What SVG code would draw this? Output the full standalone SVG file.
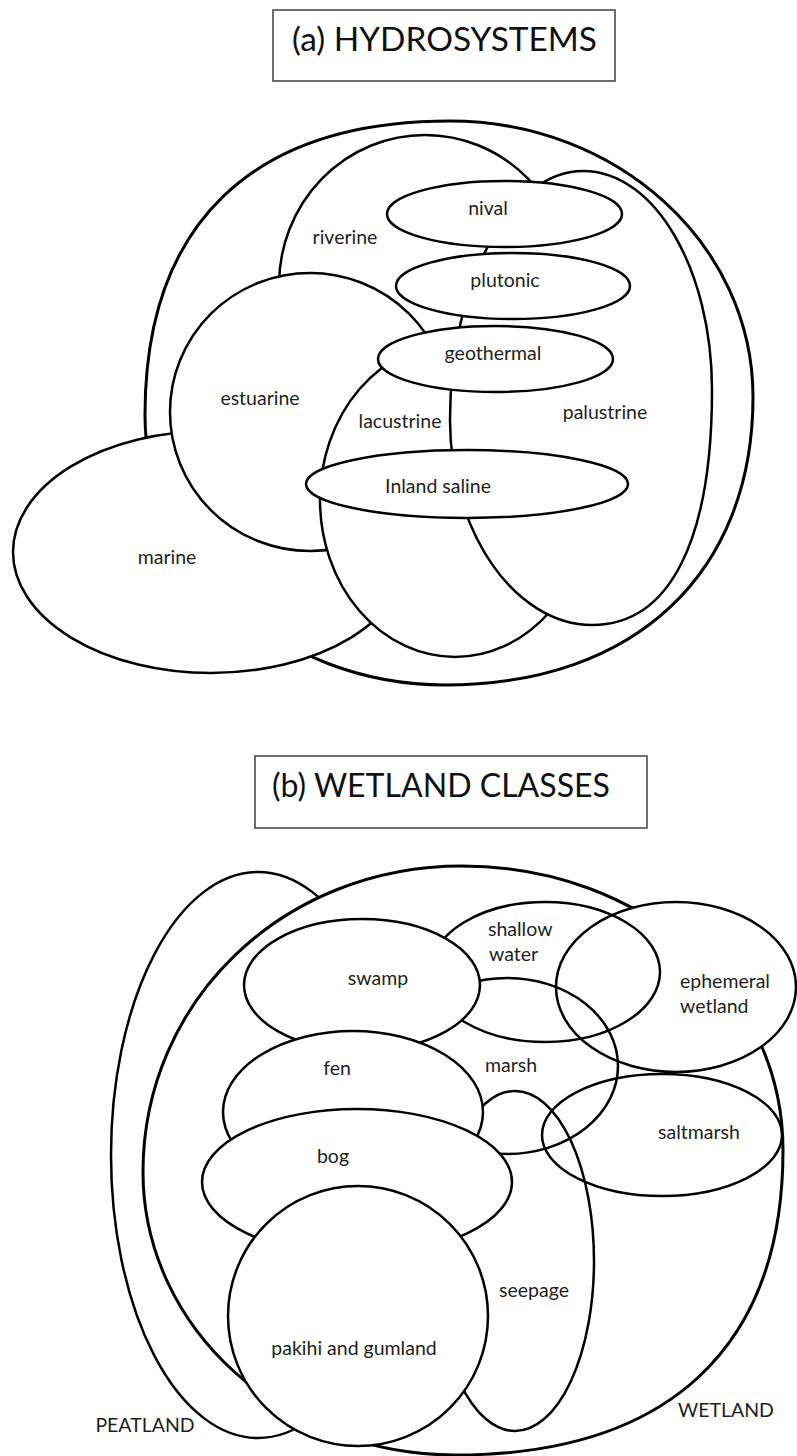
<svg xmlns="http://www.w3.org/2000/svg" width="797" height="1456" viewBox="0 0 797 1456">
<style>
.s{fill:#fff;stroke:#000;stroke-width:2.5}
.o{fill:none;stroke:#000;stroke-width:2.5}
.b{fill:#fff;stroke:#000;stroke-width:3}
.t{font-family:Lato,"Open Sans","Liberation Sans",sans-serif;font-size:19.5px;fill:#1e1e1e}
.c{text-anchor:middle}
.title{font-family:Lato,"Open Sans","Liberation Sans",sans-serif;font-size:33px;fill:#111}
.box{fill:#fff;stroke:#333;stroke-width:1.4}
</style>
<rect width="797" height="1456" fill="#fff"/>

<g id="title-a">
<rect class="box" x="273" y="10" width="342" height="71"/>
<text class="title" x="292" y="51" textLength="305" lengthAdjust="spacingAndGlyphs">(a) HYDROSYSTEMS</text>
</g>

<g id="hydrosystems">
<path class="b" d="M450,121 C617,121 753,244 753,397 C753,572 636,685 445,685 C280,685 145,564 145,415 C145,224 252,121 450,121 Z"/>
</g>
<g id="riverine"><ellipse class="s" cx="425" cy="285" rx="146" ry="150"/><text class="t c" x="345" y="244">riverine</text></g>
<g id="marine"><ellipse class="s" cx="211" cy="552" rx="198" ry="121"/><text class="t c" x="167" y="564">marine</text></g>
<g id="estuarine"><ellipse class="s" cx="310" cy="412" rx="140" ry="139"/><text class="t c" x="260" y="405">estuarine</text></g>
<g id="lacustrine"><ellipse class="s" cx="455" cy="500" rx="135" ry="157"/><text class="t c" x="400" y="428">lacustrine</text></g>
<g id="palustrine"><path class="s" d="M583,171 C655,171 712,270 712,390 C712,540 670,625 592,625 C515,625 450,531.6 450,420 C450,283 510,171 583,171 Z"/><text class="t c" x="605" y="419">palustrine</text></g>
<g id="nival"><ellipse class="s" cx="504.5" cy="214" rx="117.5" ry="33"/><text class="t c" x="488" y="215">nival</text></g>
<g id="plutonic"><ellipse class="s" cx="513" cy="286" rx="117" ry="33"/><text class="t c" x="505" y="287">plutonic</text></g>
<g id="geothermal"><ellipse class="s" cx="495.5" cy="359" rx="117.5" ry="33"/><text class="t c" x="493" y="360">geothermal</text></g>
<g id="inland-saline"><ellipse class="s" cx="467" cy="484" rx="161" ry="34"/><text class="t c" x="438" y="493">Inland saline</text></g>

<g id="title-b">
<rect class="box" x="255" y="756" width="392" height="72"/>
<text class="title" x="272" y="797" textLength="338" lengthAdjust="spacingAndGlyphs">(b) WETLAND CLASSES</text>
</g>

<g id="peatland"><ellipse class="s" cx="258" cy="1155" rx="147" ry="283"/><text class="t c" x="145" y="1432">PEATLAND</text></g>
<g id="wetland"><path class="b" d="M462,866 C642,866 783,991 783,1150 C783,1348 668,1455 455,1455 C283,1455 143,1328 143,1172 C143,1001 283,866 462,866 Z"/><text class="t c" x="726" y="1417">WETLAND</text></g>
<g id="ephemeral-wetland"><ellipse class="s" cx="676" cy="987" rx="120" ry="85"/><text class="t" x="680" y="988">ephemeral</text><text class="t" x="680" y="1013">wetland</text></g>
<g id="shallow-water"><ellipse class="o" cx="545" cy="972" rx="115" ry="70"/><text class="t" x="488" y="936">shallow</text><text class="t" x="489" y="961">water</text></g>
<g id="marsh"><ellipse class="o" cx="507" cy="1066" rx="111" ry="88"/><text class="t c" x="511" y="1072">marsh</text></g>
<g id="saltmarsh"><ellipse class="o" cx="662" cy="1135" rx="120" ry="61"/><text class="t c" x="699" y="1139">saltmarsh</text></g>
<g id="seepage"><ellipse class="o" cx="515" cy="1261" rx="79" ry="170"/><text class="t c" x="534" y="1297">seepage</text></g>
<g id="swamp"><ellipse class="s" cx="362" cy="985" rx="118" ry="66"/><text class="t c" x="378" y="985">swamp</text></g>
<g id="fen"><ellipse class="s" cx="353" cy="1112" rx="130" ry="81"/><text class="t c" x="337" y="1075">fen</text></g>
<g id="bog"><ellipse class="s" cx="357" cy="1182" rx="155" ry="73"/><text class="t c" x="333" y="1163">bog</text></g>
<g id="pakihi-and-gumland"><ellipse class="s" cx="358" cy="1316" rx="130" ry="130"/><text class="t c" x="354" y="1355">pakihi and gumland</text></g>

<g id="connectors"></g>
</svg>
